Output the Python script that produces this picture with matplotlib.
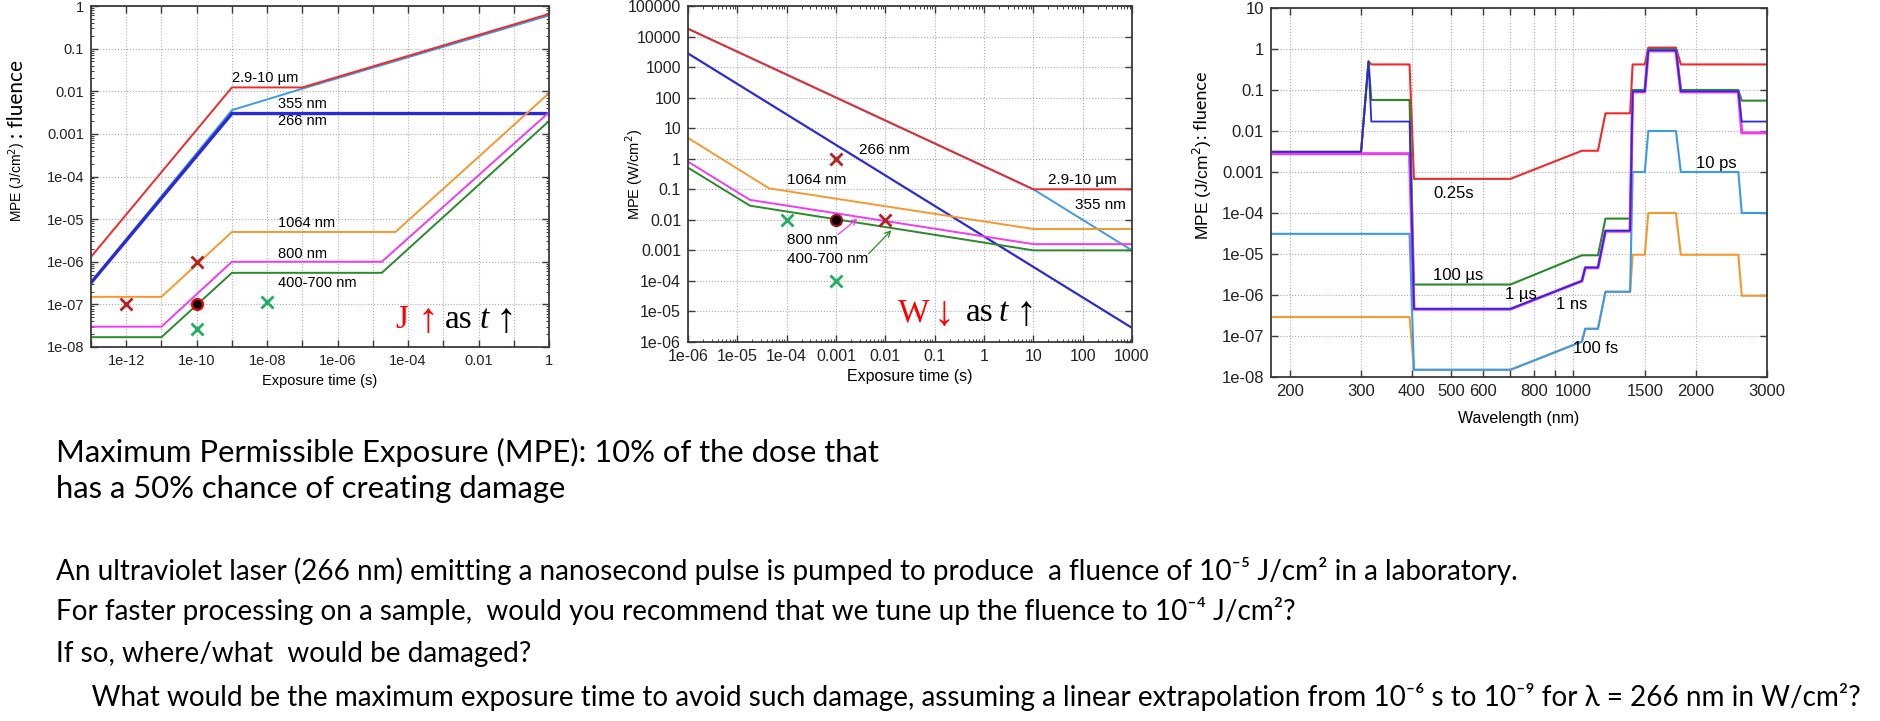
import numpy as np
import matplotlib
matplotlib.use('Agg')
import matplotlib.pyplot as plt
from matplotlib.ticker import FixedLocator, FuncFormatter, NullLocator

plt.rcParams['font.family'] = ['Liberation Sans', 'DejaVu Sans']

# ---- panel 1: fluence MPE vs exposure time (J/cm2) ----
t1_red_x = [1e-13, 1e-9, 1e-7, 1]
t1_red_y = [1.3e-6, 0.0123, 0.0123, 0.65]
t1_lblue_x = [1e-13, 1e-9, 1e-7, 1]
t1_lblue_y = [3.3e-7, 0.0036, 0.0115, 0.6]
t1_blue_x = [1e-13, 1e-9, 1]
t1_blue_y = [3.2e-7, 0.003, 0.003]
t1_orange_x = [1e-13, 1e-11, 1e-9, 4.4e-5, 1]
t1_orange_y = [1.5e-7, 1.5e-7, 5e-6, 5e-6, 0.009]
t1_magenta_x = [1e-13, 1e-11, 1e-9, 1.8e-5, 1]
t1_magenta_y = [3e-8, 3e-8, 1e-6, 1e-6, 0.0032]
t1_green_x = [1e-13, 1e-11, 1e-9, 1.8e-5, 1]
t1_green_y = [1.7e-8, 1.7e-8, 5.5e-7, 5.5e-7, 0.002]
t1_redx_x = [1e-12, 1e-10]
t1_redx_y = [1e-7, 1e-6]
t1_greenx_x = [1e-10, 1e-8]
t1_greenx_y = [2.6e-8, 1.13e-7]
t1_dot = (1e-10, 1e-7)

# ---- panel 2: irradiance MPE vs exposure time (W/cm2) ----
t2_red_x = [1e-6, 10, 1000]
t2_red_y = [1.8e4, 0.1, 0.1]
t2_lblue_x = [1e-6, 10, 1000]
t2_lblue_y = [1.8e4, 0.1, 0.001]
t2_blue_x = [1e-6, 1000]
t2_blue_y = [2800, 2.9e-6]
t2_orange_x = [1e-6, 4.4e-5, 10, 1000]
t2_orange_y = [4.8, 0.107, 0.005, 0.005]
t2_magenta_x = [1e-6, 1.8e-5, 10, 1000]
t2_magenta_y = [0.8, 0.045, 0.0016, 0.0016]
t2_green_x = [1e-6, 1.8e-5, 10, 1000]
t2_green_y = [0.51, 0.029, 0.001, 0.001]
t2_redx_x = [0.001, 0.01]
t2_redx_y = [1, 0.01]
t2_greenx_x = [1e-4, 0.001]
t2_greenx_y = [0.01, 1e-4]
t2_dot = (0.001, 0.01)

# ---- panel 3: MPE vs wavelength ----
wl_red = [180, 300, 313, 318, 395, 405, 700, 1050, 1150, 1200, 1380, 1400, 1500, 1530, 1790, 1840, 3000]
mpe_red = [0.0031, 0.0031, 0.5, 0.42, 0.42, 6.8e-4, 6.8e-4, 0.0033, 0.0033, 0.027, 0.027, 0.42, 0.42, 1.08,
           1.08, 0.42, 0.42]
wl_green = [180, 300, 313, 318, 395, 405, 700, 1050, 1150, 1200, 1380, 1400, 1500, 1530, 1790, 1840, 2550,
            2600, 3000]
mpe_green = [0.0031, 0.0031, 0.5, 0.057, 0.057, 1.8e-6, 1.8e-6, 9.3e-6, 9.3e-6, 7.3e-5, 7.3e-5, 0.1, 0.1, 1.0,
             1.0, 0.1, 0.1, 0.055, 0.055]
wl_blue = [180, 300, 313, 318, 395, 405, 700, 1050, 1070, 1150, 1200, 1380, 1400, 1500, 1530, 1790, 1840,
           2550, 2600, 3000]
mpe_blue = [0.0031, 0.0031, 0.49, 0.017, 0.017, 4.6e-7, 4.6e-7, 2.2e-6, 4.7e-6, 4.7e-6, 3.7e-5, 3.7e-5, 0.093,
            0.093, 0.93, 0.93, 0.093, 0.093, 0.017, 0.017]
wl_short = [180, 395, 405, 700, 1050, 1070, 1150, 1200, 1380, 1400, 1500, 1530, 1790, 1840, 2550, 2600, 3000]
mpe_magenta = [0.0028, 0.0028, 4.5e-7, 4.5e-7, 2.2e-6, 4.6e-6, 4.6e-6, 3.6e-5, 3.6e-5, 0.09, 0.09, 0.9, 0.9,
               0.09, 0.09, 0.009, 0.009]
mpe_lblue = [3.1e-5, 3.1e-5, 1.5e-8, 1.5e-8, 7.3e-8, 1.5e-7, 1.5e-7, 1.2e-6, 1.2e-6, 0.001, 0.001, 0.01, 0.01,
             0.001, 0.001, 1e-4, 1e-4]
mpe_orange = [2.9e-7, 2.9e-7, 1.5e-8, 1.5e-8, 7.3e-8, 1.5e-7, 1.5e-7, 1.2e-6, 1.2e-6, 9.6e-6, 9.6e-6, 1e-4,
              1e-4, 9.6e-6, 9.6e-6, 9.6e-7, 9.6e-7]

RED = '#ee2a2a'
LBLUE = '#3c9be8'
BLUE = '#2a2ad8'
ORANGE = '#f5992e'
MAGENTA = '#f03cf0'
GREEN = '#2a8a2a'
DARKRED = '#b52020'
XGREEN = '#1fae62'

W, H = 1881, 721
fig = plt.figure(figsize=(W / 100, H / 100), dpi=100)


def px_axes(left, top, right, bottom):
    return fig.add_axes([left / W, 1 - bottom / H, (right - left) / W, (bottom - top) / H])


def fmt_log(v, pos=None):
    if v >= 0.001:
        return '%g' % v
    return '1e-%02d' % int(round(-np.log10(v)))


def style_axes(ax, size):
    for s in ax.spines.values():
        s.set_linewidth(1.3)
        s.set_color('#3a3a3a')
    ax.tick_params(which='both', direction='in', top=True, right=True, colors='#3a3a3a',
                   labelcolor='#222222', labelsize=size)
    ax.tick_params(which='major', length=5, width=1, pad=5)
    ax.tick_params(which='minor', length=2.5, width=0.7)
    ax.grid(True, which='major', linestyle=':', color='#aaaaaa', linewidth=0.8)


def slogan(ax, word, arrow, xs, y):
    serif = ['Liberation Serif', 'DejaVu Serif']
    ax.text(xs[0], y, word, color='red', fontsize=24, family=serif, transform=ax.transAxes)
    ax.text(xs[1], y - 0.01, arrow, color='red', fontsize=30, family=serif, transform=ax.transAxes)
    ax.text(xs[2], y, 'as', color='black', fontsize=24, family=serif, transform=ax.transAxes)
    ax.text(xs[3], y, 't', color='black', fontsize=24, family=serif, style='italic',
            transform=ax.transAxes)
    ax.text(xs[4], y - 0.01, '\u2191', color='black', fontsize=30, family=serif, transform=ax.transAxes)


# panel 1
ax1 = px_axes(91, 6, 549, 347)
ax1.set_xscale('log')
ax1.set_yscale('log')
ax1.plot(t1_lblue_x, t1_lblue_y, color=LBLUE, lw=1.4)
ax1.plot(t1_red_x, t1_red_y, color=RED, lw=1.4)
ax1.plot(t1_blue_x, t1_blue_y, color=BLUE, lw=2.4)
ax1.plot(t1_orange_x, t1_orange_y, color=ORANGE, lw=1.4)
ax1.plot(t1_magenta_x, t1_magenta_y, color=MAGENTA, lw=1.4)
ax1.plot(t1_green_x, t1_green_y, color=GREEN, lw=1.4)
ax1.plot(t1_redx_x, t1_redx_y, 'x', color=DARKRED, ms=9, mew=2)
ax1.plot(t1_greenx_x, t1_greenx_y, 'x', color=XGREEN, ms=9, mew=2)
ax1.plot(*t1_dot, 'o', mfc='black', mec='red', ms=8, mew=1.5)
ax1.set_xlim(1e-13, 1)
ax1.set_ylim(1e-8, 1)
style_axes(ax1, 10.5)
decades1 = [10.0 ** e for e in range(-13, 1)]
ax1.xaxis.set_major_locator(FixedLocator(decades1))
ax1.xaxis.set_minor_locator(NullLocator())
ax1.xaxis.set_major_formatter(FuncFormatter(
    lambda v, p: fmt_log(v) if int(round(np.log10(v))) % 2 == 0 else ''))
ax1.yaxis.set_major_formatter(FuncFormatter(fmt_log))
ax1.set_xlabel('Exposure time (s)', fontsize=10.5, labelpad=4)
for txt, x, y in [('2.9-10 \u00b5m', 1e-9, 0.02), ('355 nm', 2e-8, 0.005), ('266 nm', 2e-8, 0.002),
                  ('1064 nm', 2e-8, 8e-6), ('800 nm', 2e-8, 1.5e-6), ('400-700 nm', 2e-8, 3.1e-7)]:
    ax1.text(x, y, txt, fontsize=10.5, va='center', ha='left')
slogan(ax1, 'J', '\u2191', [0.664, 0.712, 0.772, 0.848, 0.884], 0.055)
fig.text(17 / W, 1 - 182 / H, 'MPE (J/cm$^2$)', rotation=90, ha='center', va='center', fontsize=10)
fig.text(17 / W, 1 - 99 / H, ': fluence', rotation=90, ha='center', va='center', fontsize=15,
         family=['Lato', 'DejaVu Sans'])

# panel 2
ax2 = px_axes(688, 6, 1132, 342)
ax2.set_xscale('log')
ax2.set_yscale('log')
ax2.plot(t2_lblue_x, t2_lblue_y, color=LBLUE, lw=1.4)
ax2.plot(t2_red_x, t2_red_y, color=RED, lw=1.4)
ax2.plot(t2_blue_x, t2_blue_y, color=BLUE, lw=1.6)
ax2.plot(t2_orange_x, t2_orange_y, color=ORANGE, lw=1.4)
ax2.plot(t2_magenta_x, t2_magenta_y, color=MAGENTA, lw=1.4)
ax2.plot(t2_green_x, t2_green_y, color=GREEN, lw=1.4)
ax2.plot(t2_redx_x, t2_redx_y, 'x', color=DARKRED, ms=9, mew=2)
ax2.plot(t2_greenx_x, t2_greenx_y, 'x', color=XGREEN, ms=9, mew=2)
ax2.plot(*t2_dot, 'o', mfc='black', mec='#a01010', ms=8, mew=1.5)
ax2.set_xlim(1e-6, 1000)
ax2.set_ylim(1e-6, 1e5)
style_axes(ax2, 11.5)
ax2.xaxis.set_major_locator(FixedLocator([10.0 ** e for e in range(-6, 4)]))
ax2.yaxis.set_major_locator(FixedLocator([10.0 ** e for e in range(-6, 6)]))
ax2.xaxis.set_major_formatter(FuncFormatter(fmt_log))
ax2.yaxis.set_major_formatter(FuncFormatter(fmt_log))
ax2.set_xlabel('Exposure time (s)', fontsize=11.5, labelpad=4)
fig.text(634 / W, 1 - 174 / H, 'MPE (W/cm$^2$)', rotation=90, ha='center', va='center', fontsize=10.5)
for txt, x, y in [('266 nm', 0.0029, 1.9), ('1064 nm', 1e-4, 0.2), ('800 nm', 1e-4, 0.0022),
                  ('400-700 nm', 1e-4, 5.2e-4), ('2.9-10 \u00b5m', 20, 0.2), ('355 nm', 70, 0.031)]:
    ax2.text(x, y, txt, fontsize=11, va='center', ha='left')
ax2.annotate('', xy=(0.003, 0.0125), xytext=(0.001, 0.0029),
             arrowprops=dict(arrowstyle='->', color=MAGENTA, lw=0.9))
ax2.annotate('', xy=(0.0145, 0.0053), xytext=(0.0042, 6.7e-4),
             arrowprops=dict(arrowstyle='->', color=GREEN, lw=0.9))
slogan(ax2, 'W', '\u2193', [0.473, 0.553, 0.626, 0.700, 0.738], 0.062)

# panel 3
ax3 = px_axes(1271, 8, 1767, 377)
ax3.set_xscale('log')
ax3.set_yscale('log')
ax3.plot(wl_red, mpe_red, color=RED, lw=1.5)
ax3.plot(wl_green, mpe_green, color=GREEN, lw=1.5)
ax3.plot(wl_short, mpe_orange, color=ORANGE, lw=1.5)
ax3.plot(wl_short, mpe_lblue, color=LBLUE, lw=1.5)
ax3.plot(wl_short, mpe_magenta, color=MAGENTA, lw=2.2)
ax3.plot(wl_blue, mpe_blue, color=BLUE, lw=1.3)
ax3.set_xlim(180, 3000)
ax3.set_ylim(1e-8, 10)
style_axes(ax3, 12)
wl_ticks = [200, 300, 400, 500, 600, 700, 800, 900, 1000, 1500, 2000, 3000]
ax3.xaxis.set_major_locator(FixedLocator(wl_ticks))
ax3.xaxis.set_minor_locator(NullLocator())
ax3.xaxis.set_major_formatter(FuncFormatter(lambda v, p: '' if v in (700, 900) else '%d' % v))
ax3.yaxis.set_major_locator(FixedLocator([10.0 ** e for e in range(-8, 2)]))
ax3.yaxis.set_major_formatter(FuncFormatter(fmt_log))
ax3.set_xlabel('Wavelength (nm)', fontsize=11.5, labelpad=9)
for txt, x, y in [('0.25s', 452, 3e-4), ('100 \u00b5s', 452, 3e-6), ('1 \u00b5s', 680, 1e-6),
                  ('1 ns', 904, 6e-7), ('10 ps', 2000, 1.57e-3), ('100 fs', 1000, 5e-8)]:
    ax3.text(x, y, txt, fontsize=12, va='center', ha='left')
fig.text(1202 / W, 1 - 190 / H, 'MPE (J/cm$^2$)', rotation=90, ha='center', va='center', fontsize=12.5)
fig.text(1202 / W, 1 - 105 / H, ': fluence', rotation=90, ha='center', va='center', fontsize=13,
         family=['Lato', 'DejaVu Sans'])

# slide text
body = ['Lato', 'DejaVu Sans']
head_lines = ['Maximum Permissible Exposure (MPE): 10% of the dose that',
              'has a 50% chance of creating damage']
question_lines = ['An ultraviolet laser (266 nm) emitting a nanosecond pulse is pumped to produce  a fluence of '
                  '10\u207b\u2075 J/cm\u00b2 in a laboratory.',
                  'For faster processing on a sample,  would you recommend that we tune up the fluence to '
                  '10\u207b\u2074 J/cm\u00b2?',
                  'If so, where/what  would be damaged?',
                  '     What would be the maximum exposure time to avoid such damage, assuming a linear '
                  'extrapolation from 10\u207b\u2076 s to 10\u207b\u2079 for \u03bb = 266 nm in W/cm\u00b2?']

heads = [fig.text(56 / W, 1 - y / H, s, fontsize=20, family=body, va='center', ha='left')
         for s, y in zip(head_lines, [452, 489])]
quests = [fig.text(56 / W, 1 - y / H, s, fontsize=17, family=body, va='center', ha='left')
          for s, y in zip(question_lines, [571, 611, 654, 697])]

fig.canvas.draw()
r = fig.canvas.get_renderer()
size_h = 20 * 826 / heads[0].get_window_extent(renderer=r).width
size_q = 17 * 1455 / quests[0].get_window_extent(renderer=r).width
for t in heads:
    t.set_fontsize(size_h)
for t in quests:
    t.set_fontsize(size_q)

fig.savefig('out.png', dpi=100)
